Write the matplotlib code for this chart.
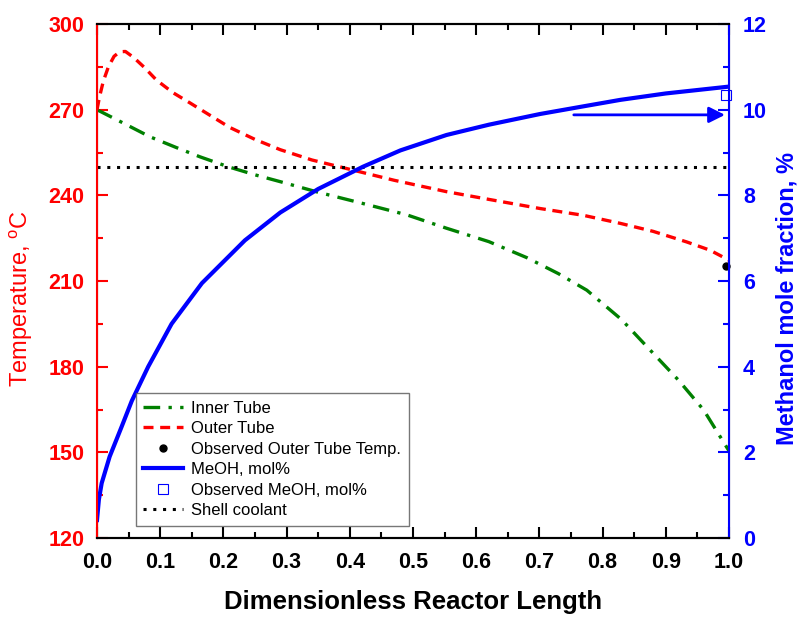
import numpy as np
import matplotlib
matplotlib.use('Agg')
import matplotlib.pyplot as plt
from matplotlib.lines import Line2D
from matplotlib.ticker import MultipleLocator

plt.rcParams['font.family'] = ['Liberation Sans', 'DejaVu Sans']

# outer tube temperature (red dashed)
outer_x = [0.0, 0.004, 0.01, 0.018, 0.027, 0.036, 0.045, 0.058, 0.075, 0.094, 0.12,
           0.147, 0.163, 0.21, 0.25, 0.29, 0.34, 0.395, 0.47, 0.553, 0.62, 0.701,
           0.77, 0.828, 0.88, 0.933, 0.97, 1.0]
outer_t = [270, 274.5, 280, 285, 288.7, 290.3, 290.4, 288.3, 284.8, 280.4, 276.0,
           272.4, 270.2, 263.8, 259.6, 256.0, 252.4, 249.4, 245.3, 241.3, 238.6, 235.4,
           233.0, 230.2, 227.4, 223.7, 220.8, 217.3]

# inner tube temperature (green dash-dot)
inner_x = [0.0, 0.04, 0.084, 0.125, 0.163, 0.208, 0.25, 0.29, 0.35, 0.42, 0.49,
           0.553, 0.62, 0.68, 0.73, 0.775, 0.83, 0.88, 0.92, 0.96, 1.0]
inner_t = [270, 265.5, 260.5, 256.8, 253.5, 250.0, 247.2, 244.8, 241.1, 237.2, 233.2,
           228.5, 223.8, 218.2, 212.6, 206.8, 196.5, 184.7, 175.3, 164.8, 150.5]

# methanol mole fraction (blue solid)
meoh_x = [0.0, 0.003, 0.0074, 0.02, 0.039, 0.055, 0.081, 0.118, 0.166, 0.234, 0.29,
          0.35, 0.421, 0.48, 0.553, 0.62, 0.701, 0.77, 0.828, 0.9, 1.0]
meoh_m = [0.42, 0.9, 1.28, 1.9, 2.6, 3.2, 4.0, 5.0, 5.95, 6.95, 7.6,
          8.15, 8.67, 9.05, 9.41, 9.65, 9.9, 10.08, 10.23, 10.38, 10.54]

obs_outer_x, obs_outer_t = [0.995], [215.3]
obs_meoh_x, obs_meoh_m = [0.995], [10.35]
shell_t = 250

fig = plt.figure(figsize=(7.99, 6.17), dpi=100)
ax = fig.add_axes([0.1214, 0.128, 0.7910, 0.833])
ax2 = ax.twinx()

ax.plot(inner_x, inner_t, color='green', ls=(0, (5, 2.5, 1, 2.5)), lw=2.4)
ax.plot(outer_x, outer_t, color='red', ls=(0, (3, 2)), lw=2.4)
ax.plot(obs_outer_x, obs_outer_t, 'o', color='black', ms=5, clip_on=False, zorder=5)
ax.plot([0, 1], [shell_t, shell_t], color='black', ls=(0, (1, 2.2)), lw=2.2)

ax2.plot(meoh_x, meoh_m, color='blue', lw=3)
ax2.plot(obs_meoh_x, obs_meoh_m, 's', mfc='none', mec='blue', ms=7, mew=0.8, clip_on=False)
ax2.annotate('', xy=(0.998, 9.88), xytext=(0.75, 9.88),
             arrowprops=dict(arrowstyle='-|>', color='blue', lw=2, mutation_scale=24))

ax.set_xlim(0, 1.0)
ax.set_ylim(120, 300)
ax2.set_ylim(0, 12)

ax.xaxis.set_major_locator(MultipleLocator(0.1))
ax.xaxis.set_minor_locator(MultipleLocator(0.05))
ax.yaxis.set_major_locator(MultipleLocator(30))
ax.yaxis.set_minor_locator(MultipleLocator(15))
ax2.yaxis.set_major_locator(MultipleLocator(2))
ax2.yaxis.set_minor_locator(MultipleLocator(1))
ax.xaxis.set_major_formatter(plt.FuncFormatter(lambda v, p: f'{v:.1f}'))

ax.tick_params(axis='x', which='both', direction='in', top=True, colors='black',
               labelsize=15.5, pad=10, width=1.5)
ax.tick_params(axis='x', which='major', length=8)
ax.tick_params(axis='x', which='minor', length=4)
ax.tick_params(axis='y', which='both', direction='in', colors='red', labelsize=15.5,
               width=1.5, pad=9)
ax.tick_params(axis='y', which='major', length=8)
ax.tick_params(axis='y', which='minor', length=4)
ax2.tick_params(axis='y', which='both', direction='in', colors='blue', labelsize=15.5,
                width=1.5, pad=10)
ax2.tick_params(axis='y', which='major', length=8)
ax2.tick_params(axis='y', which='minor', length=4)
for lab in ax.get_xticklabels() + ax.get_yticklabels() + ax2.get_yticklabels():
    lab.set_fontweight('bold')

for s in ['top', 'bottom']:
    ax.spines[s].set_linewidth(1.5)
    ax2.spines[s].set_linewidth(1.5)
ax2.spines['left'].set_color('red')
ax2.spines['left'].set_linewidth(1.5)
ax2.spines['right'].set_color('blue')
ax2.spines['right'].set_linewidth(1.5)

ax.set_xlabel('Dimensionless Reactor Length', fontsize=18.5, fontweight='bold')
ax.xaxis.set_label_coords(0.5, -0.101)
ax.set_ylabel('Temperature, $^{\\mathregular{o}}$C', fontsize=17, color='red')
ax.yaxis.set_label_coords(-0.098, 0.465)
ax2.set_ylabel('Methanol mole fraction, %', fontsize=17, color='blue', fontweight='bold')
ax2.yaxis.set_label_coords(1.073, 0.466)

handles = [
    Line2D([], [], color='green', ls=(0, (5, 2.5, 1, 2.5)), lw=2.4),
    Line2D([], [], color='red', ls=(0, (3, 2)), lw=2.4),
    Line2D([], [], color='black', marker='o', ls='none', ms=5),
    Line2D([], [], color='blue', lw=3),
    Line2D([], [], marker='s', mfc='none', mec='blue', ls='none', ms=7, mew=0.8),
    Line2D([], [], color='black', ls=(0, (1, 2.2)), lw=2.2),
]
labels = ['Inner Tube', 'Outer Tube', 'Observed Outer Tube Temp.', 'MeOH, mol%',
          'Observed MeOH, mol%', 'Shell coolant']
leg = ax2.legend(handles, labels, loc='lower left', bbox_to_anchor=(0.061, 0.024),
                 borderaxespad=0, fontsize=12, frameon=True, fancybox=False,
                 edgecolor='#555555', handlelength=2.4, handletextpad=0.5,
                 labelspacing=0.33, borderpad=0.45)
leg.get_frame().set_linewidth(1.0)

fig.savefig('out.png', dpi=100)
